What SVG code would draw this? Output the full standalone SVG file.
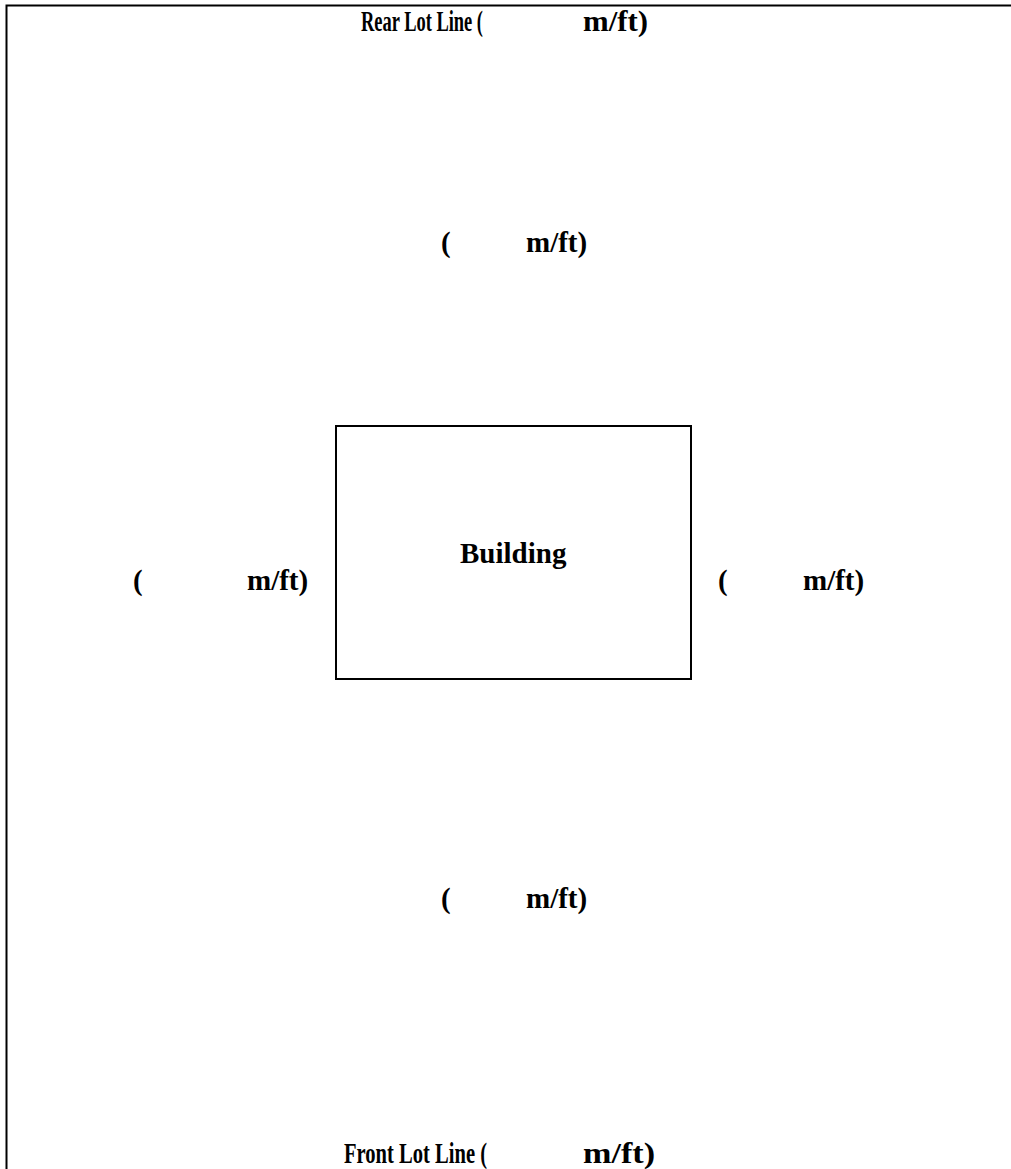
<svg xmlns="http://www.w3.org/2000/svg" width="1011" height="1169" viewBox="0 0 1011 1169">
<style>
.t{font-family:"Liberation Serif","Times New Roman",serif;font-weight:bold;font-size:29px;fill:#000}
.ln{stroke:#000;stroke-width:2;fill:none}
</style>
<rect width="1011" height="1169" fill="#fff"/>
<g id="lot">
<path class="ln" d="M6.5 1169V5.5H1011"/>
</g>
<g id="rear">
<text class="t" x="361" y="31" textLength="122" lengthAdjust="spacingAndGlyphs">Rear Lot Line (</text>
<text class="t" x="583" y="31" textLength="65" lengthAdjust="spacingAndGlyphs">m/ft)</text>
</g>
<g id="rear-setback">
<text class="t" x="441" y="252">(</text>
<text class="t" x="526" y="252">m/ft)</text>
</g>
<g id="building">
<rect class="ln" x="336" y="426" width="355" height="253"/>
<text class="t" x="460" y="563">Building</text>
</g>
<g id="left-setback">
<text class="t" x="133" y="590">(</text>
<text class="t" x="247" y="590">m/ft)</text>
</g>
<g id="right-setback">
<text class="t" x="718" y="590">(</text>
<text class="t" x="803" y="590">m/ft)</text>
</g>
<g id="front-setback">
<text class="t" x="441" y="908">(</text>
<text class="t" x="526" y="908">m/ft)</text>
</g>
<g id="front">
<text class="t" x="344" y="1163" textLength="143" lengthAdjust="spacingAndGlyphs">Front Lot Line (</text>
<text class="t" x="583" y="1163" textLength="72" lengthAdjust="spacingAndGlyphs">m/ft)</text>
</g>
<g id="connectors"></g>
</svg>
